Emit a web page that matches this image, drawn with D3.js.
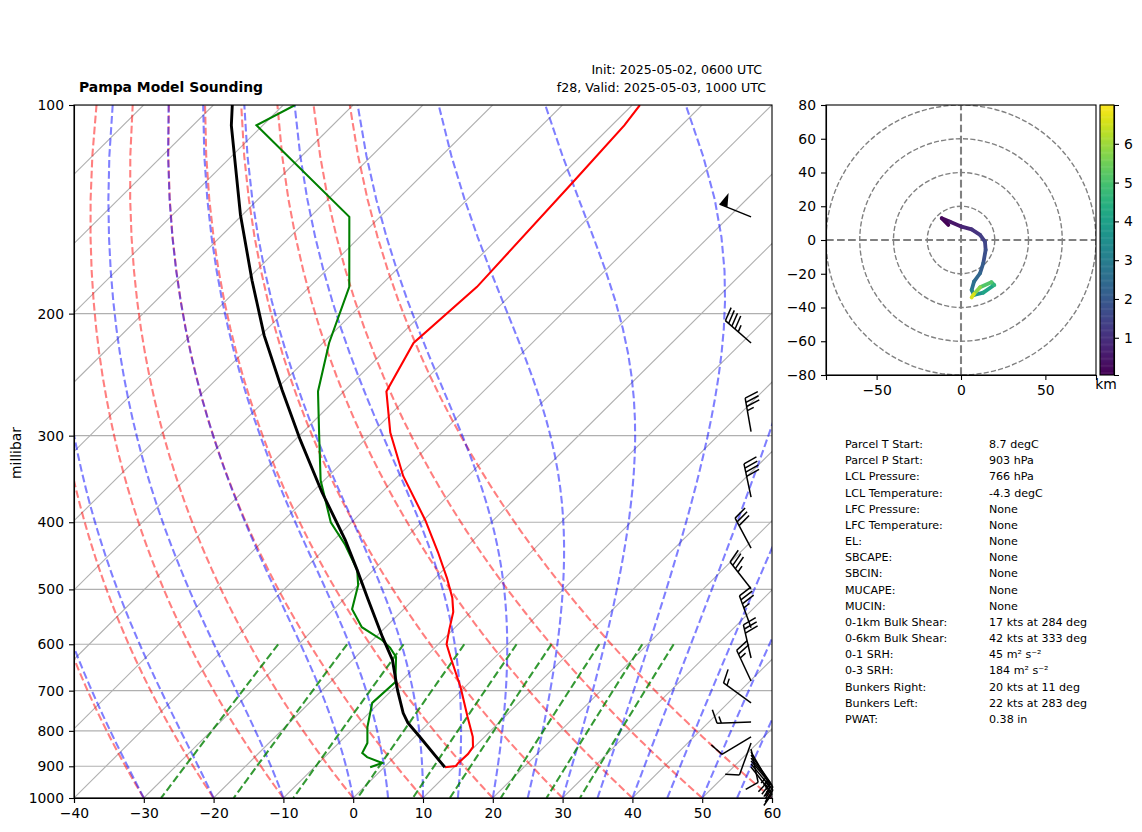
<!DOCTYPE html>
<html>
<head>
<meta charset="utf-8">
<title>Pampa Model Sounding</title>
<script src="https://cdn.jsdelivr.net/npm/d3@7"></script>
<style>
    body { margin: 0; background: #fff; }
    svg text { font-family: "DejaVu Sans", sans-serif; fill: #000; }
</style>
</head>
<body>
<script>
//temperature profile (hPa, degC)
var tempP = [100, 107, 128, 183, 220.5, 259, 297, 343, 397, 442, 481.5, 514, 539, 572, 600, 626, 692, 764, 816, 844, 864, 890, 899, 903];
var tempT = [-58.9, -58.2, -57.4, -56.0, -57.0, -53.9, -47.4, -39.3, -29.8, -23.3, -18.3, -14.7, -12.5, -10.5, -8.8, -6.4, -0.6, 4.7, 8.3, 9.8, 10.1, 10.0, 10.1, 8.7];

//dewpoint profile
var dewP = [100, 107, 145, 183, 220.5, 259, 299, 348, 400, 431, 469, 493, 534, 567, 592, 607, 626, 680, 729, 790, 833, 861, 873, 890, 903];
var dewT = [-108.3, -110.9, -84.4, -74.3, -69.1, -63.7, -57.3, -50.5, -43.0, -37.7, -32.3, -30.0, -27.4, -23.4, -18.6, -16.4, -14.2, -10.7, -11.0, -8.2, -5.9, -5.2, -3.9, -0.9, -2.0];

//parcel path
var parcelP = [100, 107, 144, 179, 215, 258, 304, 362, 424, 469, 518, 586, 632, 699, 754, 779, 816, 903];
var parcelT = [-117.3, -114.5, -100.3, -89.2, -79.5, -69.0, -59.3, -48.6, -38.4, -32.3, -26.4, -19.0, -14.3, -9.2, -5.1, -3.0, 0.7, 8.7];

//wind barbs
var windP = [145, 220.5, 296, 368, 436, 499, 568, 628, 678, 729, 777, 816, 833, 850, 858, 867, 876, 884, 893, 902];
var windSpeed = [50, 45, 35, 40, 30, 35, 35, 30, 25, 15, 15, 10, 10, 10, 15, 15, 15, 15, 15, 15];
var windDir = [292, 311, 350, 348, 332, 322, 340, 347, 335, 306, 268, 239, 200, 168, 150, 145, 142, 140, 140, 142];

//hodograph
var hodoU = [-7.5, -11.4, -6.5, 0.4, 6.3, 11.3, 14.2, 14.6, 13.2, 11.3, 7.7, 6.3, 7.7, 13.2, 19.7, 18.0, 11.3, 7.7, 6.3];
var hodoV = [8.9, 12.9, 10.8, 7.9, 6.3, 3.0, -1.0, -5.9, -13.8, -19.7, -24.7, -29.6, -32.6, -31.2, -26.7, -25.0, -28.0, -32.0, -34.0];
var hodoH = [0.05, 0.1, 0.3, 0.6, 0.9, 1.2, 1.4, 1.6, 1.9, 2.2, 2.5, 2.8, 3.3, 3.8, 4.4, 4.8, 5.4, 6.2, 6.95];

//background line start values
var dryStarts = [-40, -30, -20, -10, 0, 10, 20, 30, 40, 50, 60];
var moistStarts = [-40, -30, -20, -10, 0, 5, 10, 15, 20, 25, 30, 35, 40, 45, 50, 55, 60];
var mixingRatios = [0.0004, 0.001, 0.002, 0.004, 0.007, 0.01, 0.016, 0.024, 0.032];

//ticks
var tempTicks = [-40, -30, -20, -10, 0, 10, 20, 30, 40, 50, 60];
var pressTicks = [100, 200, 300, 400, 500, 600, 700, 800, 900, 1000];
var hodoXTicks = [-50, 0, 50];
var hodoYTicks = [-80, -60, -40, -20, 0, 20, 40, 60, 80];
var hodoRings = [20, 40, 60, 80];
var colorTicks = [1, 2, 3, 4, 5, 6];

//table of sounding parameters
var tableLabels = ["Parcel T Start:", "Parcel P Start:", "LCL Pressure:", "LCL Temperature:", "LFC Pressure:", "LFC Temperature:", "EL:", "SBCAPE:", "SBCIN:", "MUCAPE:", "MUCIN:", "0-1km Bulk Shear:", "0-6km Bulk Shear:", "0-1 SRH:", "0-3 SRH:", "Bunkers Right:", "Bunkers Left:", "PWAT:"];
var tableValues = ["8.7 degC", "903 hPa", "766 hPa", "-4.3 degC", "None", "None", "None", "None", "None", "None", "None", "17 kts at 284 deg", "42 kts at 333 deg", "45 m\u00B2 s\u207B\u00B2", "184 m\u00B2 s\u207B\u00B2", "20 kts at 11 deg", "22 kts at 283 deg", "0.38 in"];

window.onload = function() {

    var w = 1142, h = 832;
    var tickFont = 13.9;

    var svg = d3.select("body").append("svg")
        .attr("width", w)
        .attr("height", h)
        .style("display", "block");

    //skew-T panel
    var left = 74, right = 772, top = 105, bottom = 798;
    var x = d3.scaleLinear().domain([-40, 60]).range([left, right]);
    var y = d3.scaleLog().domain([1000, 100]).range([bottom, top]);
    var skew = 1.007; //about 45 degree isotherms

    //temperature at a pressure to pixel x
    function sx(t, p) {
        return x(t) + (bottom - y(p)) * skew;
    }

    svg.append("clipPath").attr("id", "skewClip").append("rect")
        .attr("x", left).attr("y", top)
        .attr("width", right - left).attr("height", bottom - top);

    var plot = svg.append("g").attr("clip-path", "url(#skewClip)");

    //grid, isotherms reach far left of the axis at the top
    plot.selectAll(".hgrid")
        .data(pressTicks)
        .enter()
        .append("line")
        .attr("class", "hgrid")
        .attr("x1", left).attr("x2", right)
        .attr("y1", function(d) { return y(d); })
        .attr("y2", function(d) { return y(d); })
        .style("stroke", "#b0b0b0")
        .style("stroke-width", 1.1);

    plot.selectAll(".iso")
        .data(d3.range(-150, 70, 10))
        .enter()
        .append("line")
        .attr("class", "iso")
        .attr("x1", function(d) { return sx(d, 1000); })
        .attr("y1", y(1000))
        .attr("x2", function(d) { return sx(d, 100); })
        .attr("y2", y(100))
        .style("stroke", "#b0b0b0")
        .style("stroke-width", 1.1);

    var line = d3.line()
        .x(function(d) { return sx(d[1], d[0]); })
        .y(function(d) { return y(d[0]); });

    function drawDashed(data, color, alpha) {
        plot.append("path")
            .attr("d", line(data))
            .style("fill", "none")
            .style("stroke", color)
            .style("stroke-opacity", alpha)
            .style("stroke-width", 2.08)
            .style("stroke-dasharray", "7.7,3.33");
    }

    var press = d3.range(50).map(function(i) { return 1000 - i * 900 / 49; });

    //dry adiabats
    dryStarts.forEach(function(t0) {
        drawDashed(press.map(function(p) {
            return [p, (t0 + 273.15) * Math.pow(p / 1000, 0.2854) - 273.15];
        }), "red", 0.5);
    });

    //moist adiabats, stepped upward from 1000 hPa
    function moistRate(p, tk) {
        var es = 6.112 * Math.exp(17.67 * (tk - 273.15) / (tk - 29.65));
        var rs = 0.622 * es / (p - es);
        var Lv = 2.501e6, Rd = 287.05, cp = 1005;
        return (Rd * tk + Lv * rs) / (cp + Lv * Lv * rs * 0.622 / (Rd * tk * tk)) / p;
    }
    moistStarts.forEach(function(t0) {
        var tk = t0 + 273.15, data = [[1000, t0]];
        for (var i = 1; i < press.length; i++) {
            var n = 8, dp = (press[i] - press[i - 1]) / n, p = press[i - 1];
            for (var j = 0; j < n; j++) {
                var k1 = moistRate(p, tk);
                var k2 = moistRate(p + dp / 2, tk + dp * k1 / 2);
                var k3 = moistRate(p + dp / 2, tk + dp * k2 / 2);
                var k4 = moistRate(p + dp, tk + dp * k3);
                tk += dp * (k1 + 2 * k2 + 2 * k3 + k4) / 6;
                p += dp;
            }
            data.push([press[i], tk - 273.15]);
        }
        drawDashed(data, "blue", 0.5);
    });

    //mixing ratio lines 600 to 1000 hPa
    mixingRatios.forEach(function(w0) {
        drawDashed(d3.range(50).map(function(i) {
            var p = 600 + i * 400 / 49;
            var lg = Math.log((p * w0 / (0.622 + w0)) / 6.112);
            return [p, 243.5 * lg / (17.67 - lg)];
        }), "green", 0.8);
    });

    //profiles
    function drawProfile(ps, ts, color, width) {
        plot.append("path")
            .attr("d", line(ps.map(function(p, i) { return [p, ts[i]]; })))
            .style("fill", "none")
            .style("stroke", color)
            .style("stroke-width", width);
    }
    drawProfile(tempP, tempT, "red", 2.08);
    drawProfile(dewP, dewT, "green", 2.08);
    drawProfile(parcelP, parcelT, "black", 2.9);

    //axes
    var xAxis = svg.append("g")
        .attr("transform", "translate(0," + bottom + ")")
        .call(d3.axisBottom(x).tickValues(tempTicks).tickSize(5).tickPadding(5));
    var yAxis = svg.append("g")
        .attr("transform", "translate(" + left + ",0)")
        .call(d3.axisLeft(y).tickValues(pressTicks).tickFormat(d3.format("d")).tickSize(5).tickPadding(5));

    //frame
    svg.append("rect")
        .attr("x", left).attr("y", top)
        .attr("width", right - left).attr("height", bottom - top)
        .style("fill", "none")
        .style("stroke", "#000")
        .style("stroke-width", 1.1);

    //wind barbs, mpl geometry
    var barbX = left + 0.97 * (right - left);
    var barbLen = 34;
    var barbs = svg.append("g");

    windP.forEach(function(p, i) {
        var dirRad = windDir[i] * Math.PI / 180;
        var hx = Math.sin(dirRad), hy = -Math.cos(dirRad); //from base towards the tip
        var px = -hy, py = hx; //feather side
        var bx = barbX, by = y(p);
        var spacing = barbLen * 0.125, fh = barbLen * 0.4, fw = barbLen * 0.25;

        function pt(along, side) {
            return [bx + hx * along + px * side, by + hy * along + py * side];
        }

        barbs.append("line")
            .attr("x1", pt(0, 0)[0]).attr("y1", pt(0, 0)[1])
            .attr("x2", pt(barbLen, 0)[0]).attr("y2", pt(barbLen, 0)[1])
            .style("stroke", "#000").style("stroke-width", 1.5);

        var rest = Math.round(windSpeed[i] / 5) * 5;
        var flags = Math.floor(rest / 50);
        rest -= flags * 50;
        var full = Math.floor(rest / 10);
        var half = rest - full * 10 >= 5;
        var offset = barbLen;

        for (var f = 0; f < flags; f++) {
            barbs.append("polygon")
                .attr("points", [pt(offset, 0), pt(offset - fw / 2, fh), pt(offset - fw, 0)].join(" "))
                .style("fill", "#000");
            offset -= fw + spacing;
        }
        for (var b = 0; b < full; b++) {
            barbs.append("line")
                .attr("x1", pt(offset, 0)[0]).attr("y1", pt(offset, 0)[1])
                .attr("x2", pt(offset + fw / 2, fh)[0]).attr("y2", pt(offset + fw / 2, fh)[1])
                .style("stroke", "#000").style("stroke-width", 1.5);
            offset -= spacing;
        }
        if (half) {
            if (offset == barbLen) offset -= 1.5 * spacing;
            barbs.append("line")
                .attr("x1", pt(offset, 0)[0]).attr("y1", pt(offset, 0)[1])
                .attr("x2", pt(offset + fw / 4, fh / 2)[0]).attr("y2", pt(offset + fw / 4, fh / 2)[1])
                .style("stroke", "#000").style("stroke-width", 1.5);
        }
    });

    //titles
    svg.append("text").attr("x", 79).attr("y", 92)
        .style("font-size", "13.9px").style("font-weight", "bold")
        .text("Pampa Model Sounding");
    svg.append("text").attr("x", 762).attr("y", 74)
        .attr("text-anchor", "end").style("font-size", "12.6px")
        .text("Init: 2025-05-02, 0600 UTC");
    svg.append("text").attr("x", 766).attr("y", 92)
        .attr("text-anchor", "end").style("font-size", "12.6px")
        .text("f28, Valid: 2025-05-03, 1000 UTC");
    svg.append("text")
        .attr("transform", "translate(21,453) rotate(-90)")
        .attr("text-anchor", "middle").style("font-size", "13.9px")
        .text("millibar");

    //hodograph panel
    var hx = d3.scaleLinear().domain([-80, 80]).range([826, 1096]);
    var hy = d3.scaleLinear().domain([-80, 80]).range([375, 105]);

    svg.append("clipPath").attr("id", "hodoClip").append("rect")
        .attr("x", 826).attr("y", 105).attr("width", 270).attr("height", 270);

    var hodo = svg.append("g").attr("clip-path", "url(#hodoClip)");

    hodo.selectAll(".ring")
        .data(hodoRings)
        .enter()
        .append("circle")
        .attr("class", "ring")
        .attr("cx", hx(0))
        .attr("cy", hy(0))
        .attr("r", function(d) { return hx(d) - hx(0); })
        .style("fill", "none")
        .style("stroke", "gray")
        .style("stroke-width", 1.39)
        .style("stroke-dasharray", "5.14,2.22");

    hodo.append("line")
        .attr("x1", hx(-80)).attr("x2", hx(80))
        .attr("y1", hy(0)).attr("y2", hy(0))
        .style("stroke", "gray").style("stroke-width", 2.08)
        .style("stroke-dasharray", "7.7,3.33");
    hodo.append("line")
        .attr("x1", hx(0)).attr("x2", hx(0))
        .attr("y1", hy(-80)).attr("y2", hy(80))
        .style("stroke", "gray").style("stroke-width", 2.08)
        .style("stroke-dasharray", "7.7,3.33");

    //hodograph trace colored by height
    var color = d3.scaleSequential(d3.interpolateViridis).domain([0.04, 7]);
    d3.range(hodoU.length - 1).forEach(function(i) {
        hodo.append("line")
            .attr("x1", hx(hodoU[i])).attr("y1", hy(hodoV[i]))
            .attr("x2", hx(hodoU[i + 1])).attr("y2", hy(hodoV[i + 1]))
            .style("stroke", color((hodoH[i] + hodoH[i + 1]) / 2))
            .style("stroke-width", 3.8)
            .style("stroke-linecap", "round");
    });

    var hxAxis = svg.append("g")
        .attr("transform", "translate(0,375)")
        .call(d3.axisBottom(hx).tickValues(hodoXTicks).tickSize(5).tickPadding(5));
    var hyAxis = svg.append("g")
        .attr("transform", "translate(826,0)")
        .call(d3.axisLeft(hy).tickValues(hodoYTicks).tickSize(5).tickPadding(5));

    svg.append("rect")
        .attr("x", 826).attr("y", 105).attr("width", 270).attr("height", 270)
        .style("fill", "none").style("stroke", "#000").style("stroke-width", 1.1);

    //colorbar
    var cbar = d3.scaleLinear().domain([0.04, 7]).range([375, 105]);
    var bands = d3.range(0.04, 7, 0.03);
    svg.selectAll(".band")
        .data(bands)
        .enter()
        .append("rect")
        .attr("class", "band")
        .attr("x", 1100).attr("width", 14)
        .attr("y", function(d) { return cbar(d + 0.03) - 0.5; })
        .attr("height", function(d) { return cbar(d) - cbar(d + 0.03) + 0.5; })
        .style("fill", function(d) { return color(d); });

    var cAxis = svg.append("g")
        .attr("transform", "translate(1114,0)")
        .call(d3.axisRight(cbar).tickValues(colorTicks).tickFormat(d3.format("d")).tickSize(5).tickPadding(5));

    svg.append("rect")
        .attr("x", 1100).attr("y", 105).attr("width", 14).attr("height", 270)
        .style("fill", "none").style("stroke", "#000").style("stroke-width", 1.1);

    svg.append("text").attr("x", 1106).attr("y", 389)
        .attr("text-anchor", "middle").style("font-size", "13.9px")
        .text("km");

    //axis styling
    [xAxis, yAxis, hxAxis, hyAxis, cAxis].forEach(function(a) {
        a.selectAll("text")
            .style("font-family", "'DejaVu Sans', sans-serif")
            .style("font-size", tickFont + "px");
        a.selectAll("line").style("stroke-width", 1.1);
        a.select(".domain").style("stroke-width", 1.1);
    });

    //parameter table
    var rowY = d3.scaleLinear().domain([0, tableLabels.length - 1]).range([448, 723]);
    svg.selectAll(".tlabel")
        .data(tableLabels)
        .enter()
        .append("text")
        .attr("class", "tlabel")
        .attr("x", 845)
        .attr("y", function(d, i) { return rowY(i); })
        .style("font-size", "11.1px")
        .text(function(d) { return d; });
    svg.selectAll(".tvalue")
        .data(tableValues)
        .enter()
        .append("text")
        .attr("class", "tvalue")
        .attr("x", 989)
        .attr("y", function(d, i) { return rowY(i); })
        .style("font-size", "11.1px")
        .text(function(d) { return d; });
};
</script>
</body>
</html>
